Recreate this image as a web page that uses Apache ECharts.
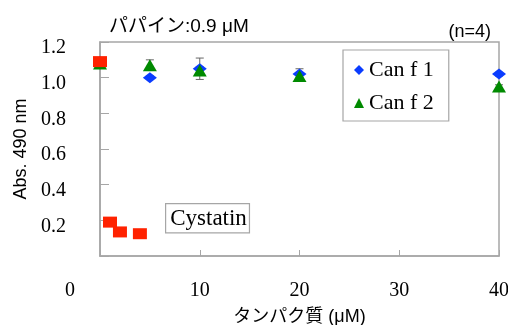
<!DOCTYPE html>
<html>
<head>
<meta charset="utf-8">
<script src="https://cdn.jsdelivr.net/npm/echarts@6/dist/echarts.min.js"></script>
<style>html,body{margin:0;padding:0;background:#fff}#c{width:508px;height:325px}</style>
</head>
<body>
<div id="c"></div>
<script>
// ---- data ----
var concentrations = [0, 5, 10, 20, 40];
var canf1 = [1.09, 1.00, 1.05, 1.02, 1.02];
var canf1Err = [0, 0.01, 0.06, 0.03, 0.01];
var canf2 = [1.08, 1.07, 1.04, 1.01, 0.95];
var canf2Err = [0, 0.03, 0.02, 0.01, 0.01];
var cystatinX = [0, 1, 2, 4];
var cystatin = [1.09, 0.19, 0.135, 0.125];
var xTicks = [0, 10, 20, 30, 40];
var yTicks = [0.2, 0.4, 0.6, 0.8, 1.0, 1.2];

var SANS = '"Liberation Sans","Noto Sans CJK JP",sans-serif';
var SERIF = '"Liberation Serif","Noto Sans CJK JP",serif';
var GRAY = '#a6a6a6';

function pairs(xs, ys){ return xs.map(function(x,i){ return [x, ys[i]]; }); }
function errData(xs, ys, es){
  var out = [];
  xs.forEach(function(x,i){ if (es[i] > 0) out.push([x, ys[i]-es[i], ys[i]+es[i]]); });
  return out;
}
function errRender(params, api){
  var x = api.value(0);
  var lo = api.coord([x, api.value(1)]);
  var hi = api.coord([x, api.value(2)]);
  var w = 4;
  var st = {stroke: '#666', lineWidth: 1};
  return {type:'group', children:[
    {type:'line', shape:{x1:lo[0], y1:lo[1], x2:hi[0], y2:hi[1]}, style:st},
    {type:'line', shape:{x1:lo[0]-w, y1:lo[1], x2:lo[0]+w, y2:lo[1]}, style:st},
    {type:'line', shape:{x1:hi[0]-w, y1:hi[1], x2:hi[0]+w, y2:hi[1]}, style:st}
  ]};
}

var chart = echarts.init(document.getElementById('c'), null, {renderer:'canvas'});
chart.setOption({
  animation: false,
  backgroundColor: '#fff',
  grid: {left: 100, right: 9, top: 42, bottom: 69, containLabel: false, outerBoundsMode: 'none',
         show: true, borderColor: GRAY, borderWidth: 1.5, backgroundColor: 'transparent'},
  title: [
    {text: 'パパイン:0.9 μM', left: 104, top: 12, textStyle: {fontFamily: SANS, fontSize: 19, fontWeight: 'normal', color: '#000'}},
    {text: '(n=4)', right: 12, top: 18, textStyle: {fontFamily: SANS, fontSize: 18, fontWeight: 'normal', color: '#000'}}
  ],
  legend: {
    orient: 'vertical', left: 343, top: 50,
    padding: [9, 15, 7, 11], itemGap: 11, itemWidth: 10, itemHeight: 10, itemTextGap: 9,
    borderColor: GRAY, borderWidth: 1.2,
    textStyle: {fontFamily: SERIF, fontSize: 22, lineHeight: 22, color: '#000'},
    data: [{name: 'Can f 1', icon: 'diamond'}, {name: 'Can f 2', icon: 'triangle'}]
  },
  xAxis: {
    type: 'value', min: 0, max: 40, interval: 10,
    name: 'タンパク質 (μM)', nameLocation: 'middle', nameGap: 52,
    nameTextStyle: {fontFamily: SANS, fontSize: 18, color: '#000'},
    axisLine: {lineStyle: {color: GRAY, width: 1.5}},
    axisTick: {inside: true, length: 6, lineStyle: {color: GRAY}},
    splitLine: {show: false},
    axisLabel: {
      margin: 25, fontFamily: SERIF, fontSize: 20, color: '#000',
      formatter: function(v){ return xTicks.indexOf(v) === 0 ? '{z|' + v + '}' : String(v); },
      rich: {z: {fontFamily: SERIF, fontSize: 20, color: '#000', padding: [0, 60, 0, 0]}}
    }
  },
  yAxis: {
    type: 'value', min: 0, max: 1.2, interval: 0.2,
    name: 'Abs. 490 nm', nameLocation: 'middle', nameGap: 66,
    nameTextStyle: {fontFamily: SANS, fontSize: 18, color: '#000'},
    axisLine: {lineStyle: {color: GRAY, width: 1.5}},
    axisTick: {inside: true, length: 9, lineStyle: {color: GRAY}},
    splitLine: {show: false},
    axisLabel: {
      margin: 34, color: '#000',
      formatter: function(v){
        for (var i = 0; i < yTicks.length; i++) if (Math.abs(yTicks[i]-v) < 1e-6) return '{a|' + yTicks[i].toFixed(1) + '}';
        return '';
      },
      rich: {a: {fontFamily: SERIF, fontSize: 20, color: '#000', padding: [12, 0, 0, 0]}}
    }
  },
  graphic: [
    {type: 'text', left: 165, top: 203, z: 10,
     style: {text: 'Cystatin', font: '23px ' + SERIF, fill: '#000',
             borderColor: GRAY, borderWidth: 1.2, padding: [3, 2, 2, 4], backgroundColor: '#fff'}}
  ],
  series: [
    {type: 'custom', name: 'err1', renderItem: errRender, data: errData(concentrations, canf1, canf1Err), z: 1, silent: true},
    {type: 'custom', name: 'err2', renderItem: errRender, data: errData(concentrations, canf2, canf2Err), z: 1, silent: true},
    {type: 'scatter', name: 'Can f 1', symbol: 'diamond', symbolSize: [14, 11], itemStyle: {color: '#0a3cff', opacity: 1}, data: pairs(concentrations, canf1), z: 2},
    {type: 'scatter', name: 'Can f 2', symbol: 'triangle', symbolSize: [14, 12], itemStyle: {color: '#008a00', opacity: 1}, data: pairs(concentrations, canf2), z: 3},
    {type: 'scatter', name: 'Cystatin', symbol: 'rect', symbolSize: [14, 11], itemStyle: {color: '#ff2200', opacity: 1}, data: pairs(cystatinX, cystatin), z: 4}
  ]
});
</script>
</body>
</html>
